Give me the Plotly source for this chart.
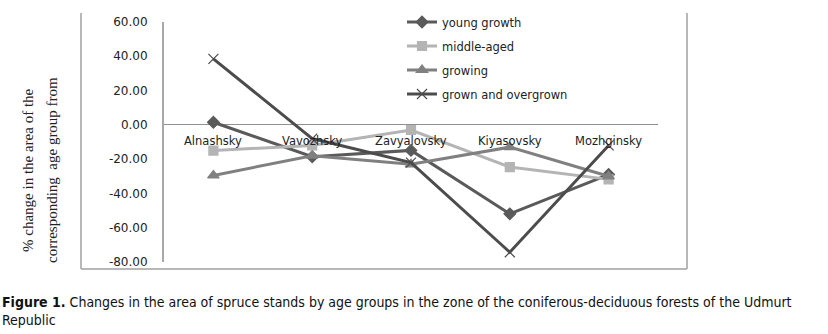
import plotly.graph_objects as go

categories = ["Alnashsky", "Vavozhsky", "Zavyalovsky", "Kiyasovsky", "Mozhginsky"]
young_growth = [1.5, -18.6, -14.9, -51.9, -29.0]
middle_aged = [-15.0, -12.0, -3.0, -24.6, -31.8]
growing = [-29.5, -18.0, -23.0, -13.0, -30.0]
grown_overgrown = [38.5, -8.0, -22.0, -74.3, -12.0]
y_ticks = [60, 40, 20, 0, -20, -40, -60, -80]
y_tick_labels = ["60.00", "40.00", "20.00", "0.00", "-20.00", "-40.00", "-60.00", "-80.00"]

W, H = 828, 334
L, R, T, B = 164, 658, 22, 262

def px(x):
    return (x - L) / (R - L)

def py(y):
    return (B - y) / (B - T)

series = [
    ("young growth", young_growth, "#5a5a5a", "diamond", 9),
    ("middle-aged", middle_aged, "#b4b4b4", "square", 9),
    ("growing", growing, "#808080", "triangle-up", 10),
    ("grown and overgrown", grown_overgrown, "#4c4c4c", "x-thin-open", 10),
]

fig = go.Figure()
for i, (name, vals, col, sym, sz) in enumerate(series):
    fig.add_trace(go.Scatter(
        x=categories, y=vals, name=name, mode="lines+markers",
        line=dict(color=col, width=3),
        marker=dict(symbol=sym, size=sz, color=col, line=dict(color=col, width=1.2)),
        legendgroup=f"g{i}",
    ))

annotations = []
for c in categories:
    annotations.append(dict(x=c, y=0, xref="x", yref="y", text=c, showarrow=False,
                            yshift=-16, font=dict(family="DejaVu Sans", size=11.5, color="#222")))

for xx, txt in [(28, "% change in the area of the"), (52, "corresponding  age group from")]:
    annotations.append(dict(x=px(xx), y=py(170), xref="paper", yref="paper", showarrow=False,
                            xanchor="center", yanchor="middle",
                            text=txt, textangle=-90,
                            font=dict(family="Liberation Serif", size=15, color="#222")))

cap_font = dict(family="DejaVu Sans Condensed, DejaVu Sans", size=14, color="#111")
annotations.append(dict(x=px(0), y=py(302), xref="paper", yref="paper", showarrow=False,
                        xanchor="left", yanchor="middle",
                        text="<b>Figure 1.</b> Changes in the area of spruce stands by age groups in the zone of the coniferous-deciduous forests of the Udmurt",
                        font=cap_font))
annotations.append(dict(x=px(0), y=py(320), xref="paper", yref="paper", showarrow=False,
                        xanchor="left", yanchor="middle", text="Republic", font=cap_font))

frame_col = "#a0a0a0"
shapes = [
    dict(type="line", xref="paper", yref="paper", x0=px(81), x1=px(81), y0=py(13), y1=py(269),
         line=dict(color=frame_col, width=1.5)),
    dict(type="line", xref="paper", yref="paper", x0=px(687), x1=px(687), y0=py(13), y1=py(269),
         line=dict(color=frame_col, width=1.5)),
    dict(type="line", xref="paper", yref="paper", x0=px(81), x1=px(687), y0=py(269), y1=py(269),
         line=dict(color=frame_col, width=1.5)),
]

fig.update_layout(
    width=W, height=H,
    margin=dict(l=L, r=W - R, t=T, b=H - B, autoexpand=False),
    paper_bgcolor="white", plot_bgcolor="white",
    showlegend=True,
    legend=dict(x=px(402), y=py(7.5), xanchor="left", yanchor="top",
                font=dict(family="DejaVu Sans", size=11.5, color="#222"),
                tracegroupgap=5, bgcolor="rgba(0,0,0,0)", itemwidth=30),
    xaxis=dict(range=[-0.5, 4.5], showticklabels=False, showline=False, showgrid=False,
               zeroline=False, ticks=""),
    yaxis=dict(range=[-80, 60], tickvals=y_ticks, ticktext=y_tick_labels, showgrid=False,
               showline=True, linecolor="#a8a8a8", linewidth=2,
               zeroline=True, zerolinecolor="#909090", zerolinewidth=1,
               ticks="", ticklabelstandoff=12,
               tickfont=dict(family="DejaVu Sans", size=12, color="#222")),
    annotations=annotations, shapes=shapes,
)

fig.write_html("out.html", config={"displayModeBar": False},
               post_script="document.body.style.margin='0';")
